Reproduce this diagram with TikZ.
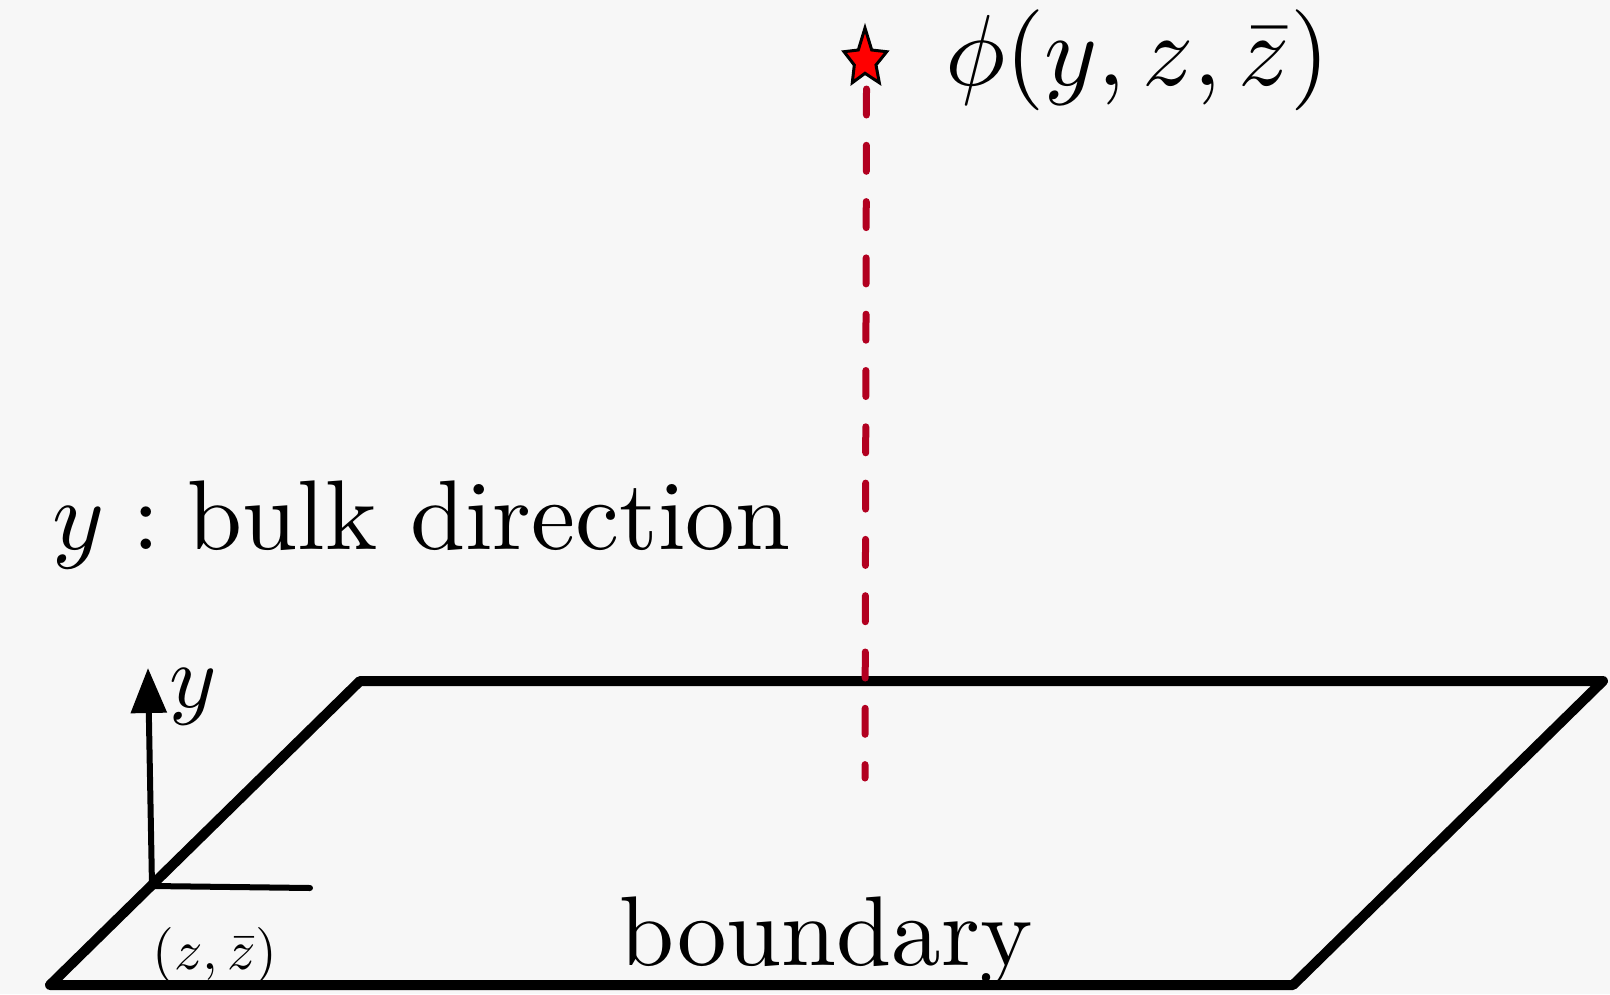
\documentclass[tikz,border=0pt]{standalone}
\usetikzlibrary{arrows.meta}
\definecolor{bg}{HTML}{F7F7F7}
\definecolor{dashred}{RGB}{178,0,32}
\begin{document}
\begin{tikzpicture}[x=1pt,y=-1pt,
  plane/.style={line width=10pt, line join=round},
  axisline/.style={line width=6pt, line cap=round},
  bulkline/.style={dashred, line width=7pt, line cap=round, dash pattern=on 26pt off 30.3pt},
  starmark/.style={fill=red, draw=black, line width=3pt, line join=miter},
  lbl/.style={inner sep=0pt}]
\fill[bg] (0,0) rectangle (1610,994);
\useasboundingbox (0,0) rectangle (1610,994);
% boundary plane
\coordinate (A) at (50,985);
\coordinate (B) at (1293,985);
\coordinate (C) at (1603,681);
\coordinate (D) at (360,681);
\draw[plane] (A) -- (B) -- (C) -- (D) -- cycle;
% axes
\coordinate (O) at (152,886);
\coordinate (Y) at (148,668);
\coordinate (X) at (310,888);
\draw[axisline] (O) -- (X);
\draw[axisline, -{Triangle[length=45pt,width=35pt]}] (O) -- (Y);
% star
\coordinate (star) at (865,55);
\draw[starmark] (865,28) -- (871.7,50) -- (886.7,51.7) -- (876,65) -- (879.3,82.7)
  -- (865,73.3) -- (852.3,82.7) -- (854.3,65) -- (844,51.7) -- (858.3,50) -- cycle;
% dashed bulk line
\coordinate (dtop) at (866.5,89);
\coordinate (dbot) at (865,778);
\draw[bulkline] (dtop) -- (dbot);
% labels
\node[lbl, anchor=base west, scale=10.1] (phi) at (943,85) {$\phi(y,z,\bar z)$};
\node[lbl, anchor=base west, scale=9.9] (bulk) at (51,549) {$y:\mbox{bulk direction}$};
\node[lbl, anchor=base, scale=9.9] (bnd) at (826,965) {boundary};
\node[lbl, anchor=base, scale=5.6] (zz) at (215,969) {$(z,\bar z)$};
\node[lbl, anchor=center, scale=9] (ylab) at (193,697) {$y$};
\end{tikzpicture}
\end{document}
